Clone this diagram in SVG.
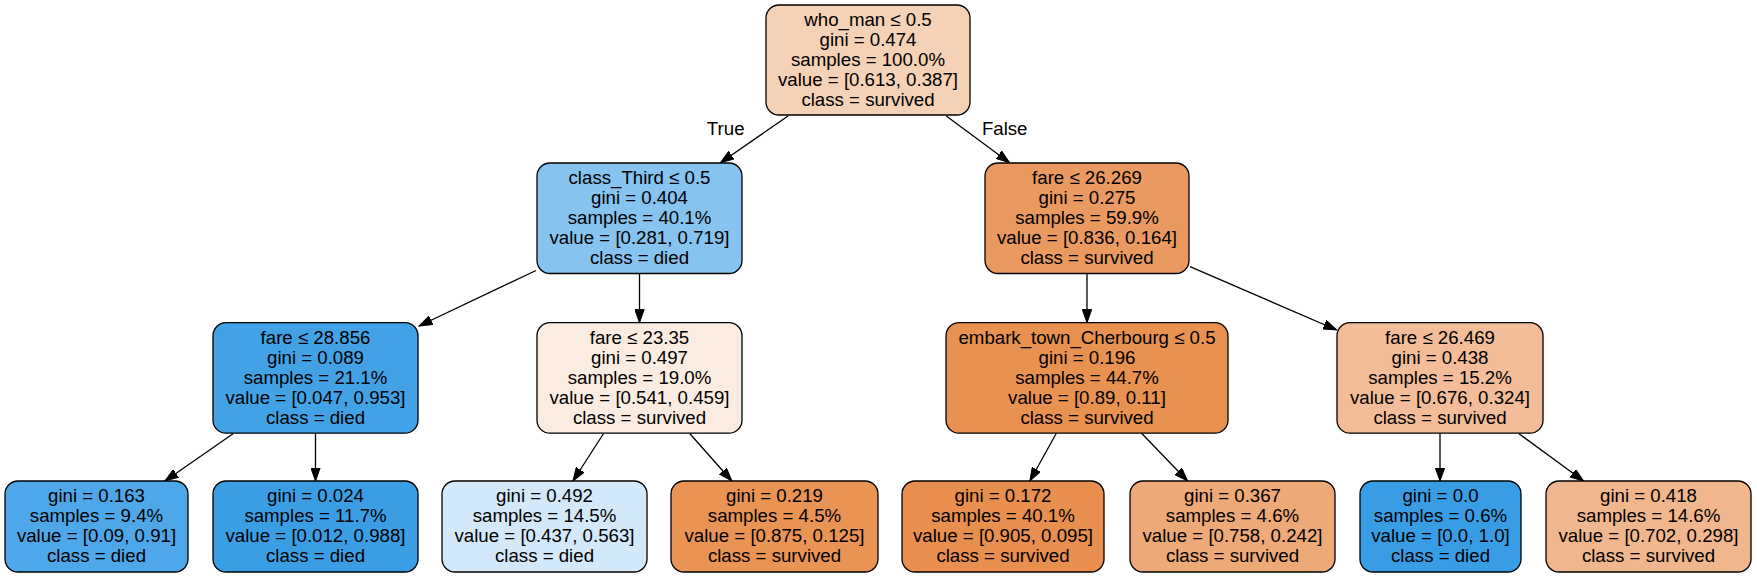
<svg xmlns="http://www.w3.org/2000/svg" width="1757" height="577" viewBox="0 0 1757 577">
<defs>
<marker id="ah" viewBox="0 0 14 10" refX="13.3" refY="5" markerWidth="14" markerHeight="10" markerUnits="userSpaceOnUse" orient="auto">
<path d="M0,0.3 L13.3,5 L0,9.7 Z" fill="#000" stroke="#000" stroke-width="1"/>
</marker>
<style>
rect{stroke:#000;stroke-width:1.3}
text{font-family:"Liberation Sans",Arial,sans-serif;font-size:18.67px;fill:#000;text-anchor:middle}
.e line{stroke:#000;stroke-width:1.3;marker-end:url(#ah)}
</style>
</defs>
<rect x="0" y="0" width="1757" height="577" fill="#fff" style="stroke:none"/>
<g class="e" id="edges">
<line x1="788" y1="116" x2="720.5" y2="162.7"/>
<line x1="946.3" y1="116" x2="1009.5" y2="162.7"/>
<line x1="536" y1="270.5" x2="419" y2="326"/>
<line x1="639.5" y1="274" x2="639.5" y2="322.7"/>
<line x1="1087" y1="274" x2="1087" y2="322.7"/>
<line x1="1190" y1="266.7" x2="1336.7" y2="330"/>
<line x1="233.4" y1="433.5" x2="165" y2="481"/>
<line x1="315.5" y1="433.5" x2="315.5" y2="481"/>
<line x1="603.6" y1="433.5" x2="573" y2="481"/>
<line x1="689.7" y1="433.5" x2="731.8" y2="481"/>
<line x1="1056.2" y1="433.5" x2="1029.9" y2="481"/>
<line x1="1141.8" y1="433.5" x2="1187.6" y2="481"/>
<line x1="1440" y1="433.5" x2="1440" y2="481"/>
<line x1="1518.7" y1="433.5" x2="1583.6" y2="481"/>
<text x="725.7" y="135">True</text>
<text x="1004.7" y="135">False</text>
</g>
<g id="n0"><rect x="766" y="5" width="204" height="110" rx="13" fill="#f5d1b6"/>
<text x="868" y="26">who_man ≤ 0.5</text><text x="868" y="46">gini = 0.474</text><text x="868" y="66">samples = 100.0%</text><text x="868" y="86">value = [0.613, 0.387]</text><text x="868" y="106">class = survived</text></g>
<g id="n1"><rect x="537" y="163" width="205" height="110.5" rx="13" fill="#86c3ef"/>
<text x="639.5" y="184">class_Third ≤ 0.5</text><text x="639.5" y="204">gini = 0.404</text><text x="639.5" y="224">samples = 40.1%</text><text x="639.5" y="244">value = [0.281, 0.719]</text><text x="639.5" y="264">class = died</text></g>
<g id="n2"><rect x="985" y="163" width="204" height="110.5" rx="13" fill="#ea9a60"/>
<text x="1087" y="184">fare ≤ 26.269</text><text x="1087" y="204">gini = 0.275</text><text x="1087" y="224">samples = 59.9%</text><text x="1087" y="244">value = [0.836, 0.164]</text><text x="1087" y="264">class = survived</text></g>
<g id="n3"><rect x="213" y="322.7" width="205" height="110.5" rx="13" fill="#43a2e6"/>
<text x="315.5" y="343.5">fare ≤ 28.856</text><text x="315.5" y="363.5">gini = 0.089</text><text x="315.5" y="383.5">samples = 21.1%</text><text x="315.5" y="403.5">value = [0.047, 0.953]</text><text x="315.5" y="423.5">class = died</text></g>
<g id="n4"><rect x="537" y="322.7" width="205" height="110.5" rx="13" fill="#fbece1"/>
<text x="639.5" y="343.5">fare ≤ 23.35</text><text x="639.5" y="363.5">gini = 0.497</text><text x="639.5" y="383.5">samples = 19.0%</text><text x="639.5" y="403.5">value = [0.541, 0.459]</text><text x="639.5" y="423.5">class = survived</text></g>
<g id="n5"><rect x="946" y="322.7" width="282" height="110.5" rx="13" fill="#e89151"/>
<text x="1087" y="343.5">embark_town_Cherbourg ≤ 0.5</text><text x="1087" y="363.5">gini = 0.196</text><text x="1087" y="383.5">samples = 44.7%</text><text x="1087" y="403.5">value = [0.89, 0.11]</text><text x="1087" y="423.5">class = survived</text></g>
<g id="n6"><rect x="1337" y="322.7" width="206" height="110.5" rx="13" fill="#f2bd98"/>
<text x="1440" y="343.5">fare ≤ 26.469</text><text x="1440" y="363.5">gini = 0.438</text><text x="1440" y="383.5">samples = 15.2%</text><text x="1440" y="403.5">value = [0.676, 0.324]</text><text x="1440" y="423.5">class = survived</text></g>
<g id="n7"><rect x="5" y="481" width="183" height="91" rx="13" fill="#4da7e8"/>
<text x="96.5" y="502">gini = 0.163</text><text x="96.5" y="522">samples = 9.4%</text><text x="96.5" y="542">value = [0.09, 0.91]</text><text x="96.5" y="562">class = died</text></g>
<g id="n8"><rect x="213" y="481" width="205" height="91" rx="13" fill="#3b9ee5"/>
<text x="315.5" y="502">gini = 0.024</text><text x="315.5" y="522">samples = 11.7%</text><text x="315.5" y="542">value = [0.012, 0.988]</text><text x="315.5" y="562">class = died</text></g>
<g id="n9"><rect x="442" y="481" width="205" height="91" rx="13" fill="#d3e9f9"/>
<text x="544.5" y="502">gini = 0.492</text><text x="544.5" y="522">samples = 14.5%</text><text x="544.5" y="542">value = [0.437, 0.563]</text><text x="544.5" y="562">class = died</text></g>
<g id="n10"><rect x="671" y="481" width="207" height="91" rx="13" fill="#e99355"/>
<text x="774.5" y="502">gini = 0.219</text><text x="774.5" y="522">samples = 4.5%</text><text x="774.5" y="542">value = [0.875, 0.125]</text><text x="774.5" y="562">class = survived</text></g>
<g id="n11"><rect x="902" y="481" width="202" height="91" rx="13" fill="#e88e4e"/>
<text x="1003" y="502">gini = 0.172</text><text x="1003" y="522">samples = 40.1%</text><text x="1003" y="542">value = [0.905, 0.095]</text><text x="1003" y="562">class = survived</text></g>
<g id="n12"><rect x="1130" y="481" width="205" height="91" rx="13" fill="#eda978"/>
<text x="1232.5" y="502">gini = 0.367</text><text x="1232.5" y="522">samples = 4.6%</text><text x="1232.5" y="542">value = [0.758, 0.242]</text><text x="1232.5" y="562">class = survived</text></g>
<g id="n13"><rect x="1360" y="481" width="161" height="91" rx="13" fill="#399de5"/>
<text x="1440.5" y="502">gini = 0.0</text><text x="1440.5" y="522">samples = 0.6%</text><text x="1440.5" y="542">value = [0.0, 1.0]</text><text x="1440.5" y="562">class = died</text></g>
<g id="n14"><rect x="1546" y="481" width="205" height="91" rx="13" fill="#f0b68d"/>
<text x="1648.5" y="502">gini = 0.418</text><text x="1648.5" y="522">samples = 14.6%</text><text x="1648.5" y="542">value = [0.702, 0.298]</text><text x="1648.5" y="562">class = survived</text></g>
</svg>
